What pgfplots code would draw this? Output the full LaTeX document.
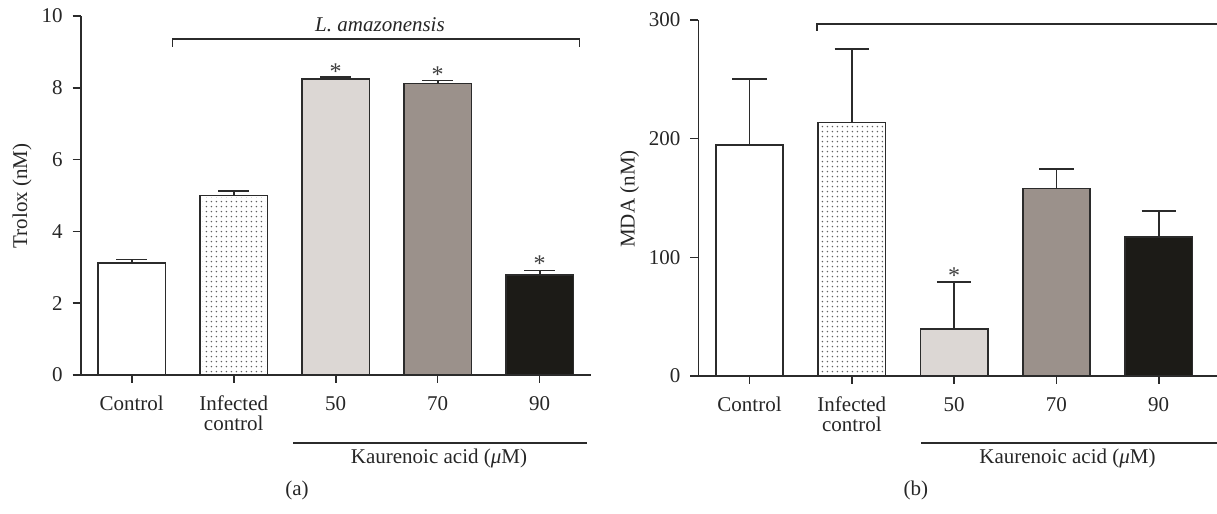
\documentclass[border=0pt]{standalone}
\usepackage{fontspec}
\setmainfont{Liberation Serif}
\usepackage{pgfplots}
\pgfplotsset{compat=1.18}
\usetikzlibrary{patterns}

\definecolor{edge}{HTML}{2B2B2B}
\definecolor{c50}{HTML}{DCD7D4}
\definecolor{c70}{HTML}{9B918B}
\definecolor{c90}{HTML}{1C1B17}

\pgfdeclarepatterninherentlycolored{graydots}
  {\pgfpointorigin}{\pgfpoint{2.7pt}{2.7pt}}{\pgfpoint{2.7pt}{2.7pt}}
  {\pgfsetfillcolor{white}\pgfpathrectangle{\pgfpointorigin}{\pgfpoint{2.7pt}{2.7pt}}\pgfusepath{fill}%
   \pgfsetfillcolor{black!62}\pgfpathcircle{\pgfpoint{1.35pt}{1.35pt}}{0.45pt}\pgfusepath{fill}}

\pgfplotsset{
 prism/.style={
  scale only axis, axis x line=bottom, axis y line=left,
  axis line style={-, line width=0.8pt, edge},
  enlargelimits=false, clip=false, ybar, bar width=0.66,
  xtick={0,...,4}, xticklabels={Control, {Infected\\control}, 50, 70, 90},
  xticklabel style={align=center, font=\fontsize{10.5}{10}\selectfont, text=black!85, yshift=-3pt},
  yticklabel style={font=\fontsize{10.5}{10}\selectfont, text=black!85, xshift=-1.5pt},
  tick align=outside, major tick length=4pt, tick style={line width=0.8pt, edge},
  /pgf/number format/assume math mode=true,
  error bars/y dir=plus, error bars/y explicit,
  error bars/error bar style={line width=0.85pt, edge},
  error bars/error mark options={rotate=90, mark size=7.7pt, line width=0.85pt, edge},
 },
 bars/.style={bar shift=0pt, draw=edge, line width=0.85pt},
 dotfill/.style={bar shift=0pt, draw=none, bar width=0.62, pattern=graydots},
}

\begin{document}
\begin{tikzpicture}[font=\fontsize{10.5}{12}\selectfont]
\useasboundingbox (0,0) rectangle (608.5pt,257pt);

% ---------------- panel (a)
\begin{axis}[prism, at={(40.35pt,69.5pt)}, anchor=south west,
  width=255pt, height=179.5pt, xmin=-0.5, xmax=4.5, ymin=0, ymax=10,
  ytick={0,2,...,10}]
\addplot[bars, fill=white] coordinates {(0,3.11) +- (0,0.11)};
\addplot[dotfill] coordinates {(1,4.95)};
\addplot[bars, fill=none] coordinates {(1,5.00) +- (0,0.12)};
\addplot[bars, fill=c50] coordinates {(2,8.24) +- (0,0.06)};
\addplot[bars, fill=c70] coordinates {(3,8.12) +- (0,0.08)};
\addplot[bars, fill=c90] coordinates {(4,2.79) +- (0,0.12)};
\draw[edge, line width=0.8pt] (axis cs:-0.5,0) -- ++(-4pt,0);
\draw[edge, line width=0.85pt] (axis cs:0.40,9.15) -- (axis cs:0.40,9.35) -- (axis cs:4.39,9.35) -- (axis cs:4.39,9.15);
\node[text=black!75, font=\fontsize{12}{12}\selectfont] at (axis cs:2,8.45) {*};
\node[text=black!75, font=\fontsize{12}{12}\selectfont] at (axis cs:3,8.36) {*};
\node[text=black!75, font=\fontsize{12}{12}\selectfont] at (axis cs:4,3.10) {*};
\end{axis}

% ---------------- panel (b)
\begin{axis}[prism, at={(349.2pt,69pt)}, anchor=south west,
  width=259.3pt, height=178pt, xmin=-0.5, xmax=4.57, ymin=0, ymax=300,
  ytick={0,100,200,300},
  error bars/error mark options={rotate=90, mark size=8.6pt, line width=0.85pt, edge}]
\addplot[bars, fill=white] coordinates {(0,194.7) +- (0,55.6)};
\addplot[dotfill] coordinates {(1,211.8)};
\addplot[bars, fill=none] coordinates {(1,213.5) +- (0,62.3)};
\addplot[bars, fill=c50] coordinates {(2,39.6) +- (0,39.6)};
\addplot[bars, fill=c70] coordinates {(3,158.1) +- (0,16.1)};
\addplot[bars, fill=c90] coordinates {(4,116.9) +- (0,22.4)};
\draw[edge, line width=0.8pt] (axis cs:-0.5,0) -- ++(-4pt,0);
\draw[edge, line width=0.85pt] (axis cs:0.66,291) -- (axis cs:0.66,296.6) -- (axis cs:4.57,296.6);
\node[text=black!75, font=\fontsize{12}{12}\selectfont] at (axis cs:2,84.5) {*};
\end{axis}

% ---------------- labels
\node[rotate=90, text=black!85] at (11pt,159pt) {Trolox (nM)};
\node[rotate=90, text=black!85] at (314.75pt,157.5pt) {MDA (nM)};
\node[text=black!85] at (190pt,244.5pt) {\textit{L. amazonensis}};
\draw[edge, line width=0.85pt] (146.5pt,35.5pt) -- (293.3pt,35.5pt);
\draw[edge, line width=0.85pt] (460.5pt,35.5pt) -- (608.5pt,35.5pt);
\node[text=black!85] at (219.5pt,28pt) {Kaurenoic acid (\textit{μ}M)};
\node[text=black!85] at (533.75pt,28pt) {Kaurenoic acid (\textit{μ}M)};
\node[text=black!85] at (148.5pt,12pt) {(a)};
\node[text=black!85] at (457.9pt,12pt) {(b)};
\end{tikzpicture}
\end{document}
